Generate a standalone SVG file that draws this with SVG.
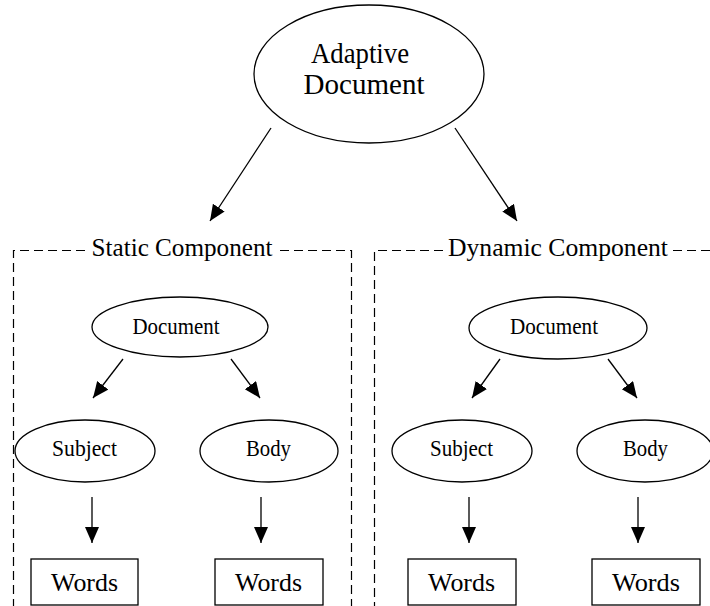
<svg xmlns="http://www.w3.org/2000/svg" width="710" height="606" viewBox="0 0 710 606">
<style>
  .shape { fill: #fff; stroke: #000; stroke-width: 1.3; }
  .t { font-family: "Liberation Serif", "Times New Roman", serif; fill: #000; text-anchor: middle; }
  .dash { fill: none; stroke: #000; stroke-width: 1.2; stroke-dasharray: 9 5; }
  .edge { stroke: #000; stroke-width: 1.3; fill: none; marker-end: url(#ah); }
</style>
<defs>
  <marker id="ah" markerUnits="userSpaceOnUse" markerWidth="18" markerHeight="16" refX="16" refY="7" orient="auto">
    <path d="M0,0 L16,7 L0,14 z" fill="#000"/>
  </marker>
</defs>
<rect width="710" height="606" fill="#fff"/>

<g id="clusters">
  <g id="static">
    <path class="dash" d="M85,250.5 H13.5 V606"/>
    <path class="dash" d="M280,250.5 H351.5 V606"/>
    <text class="t" x="182" y="256" font-size="26" textLength="181" lengthAdjust="spacingAndGlyphs">Static Component</text>
  </g>
  <g id="dynamic">
    <path class="dash" d="M443,250.5 H374.5 V606"/>
    <path class="dash" d="M673,250.5 H712"/>
    <text class="t" x="558" y="256" font-size="26" textLength="220" lengthAdjust="spacingAndGlyphs">Dynamic Component</text>
  </g>
</g>

<g id="connectors">
  <line class="edge" x1="271" y1="128" x2="210" y2="221"/>
  <line class="edge" x1="455" y1="128" x2="517" y2="221"/>
  <line class="edge" x1="123" y1="359" x2="93" y2="398"/>
  <line class="edge" x1="231" y1="359" x2="260" y2="398"/>
  <line class="edge" x1="500" y1="359" x2="472" y2="398"/>
  <line class="edge" x1="608" y1="359" x2="637" y2="398"/>
  <line class="edge" x1="92" y1="497" x2="92" y2="543"/>
  <line class="edge" x1="261" y1="497" x2="261" y2="543"/>
  <line class="edge" x1="469" y1="497" x2="469" y2="543"/>
  <line class="edge" x1="638" y1="497" x2="638" y2="543"/>
</g>

<g id="adaptive">
  <ellipse class="shape" cx="369" cy="74" rx="115" ry="69"/>
  <text class="t" x="360" y="63" font-size="30" textLength="98" lengthAdjust="spacingAndGlyphs">Adaptive</text>
  <text class="t" x="364" y="94" font-size="30" textLength="121" lengthAdjust="spacingAndGlyphs">Document</text>
</g>

<g id="s-document">
  <ellipse class="shape" cx="180" cy="327" rx="88" ry="30"/>
  <text class="t" x="176" y="334" font-size="23" textLength="87" lengthAdjust="spacingAndGlyphs">Document</text>
</g>
<g id="s-subject">
  <ellipse class="shape" cx="85" cy="451" rx="70" ry="31"/>
  <text class="t" x="84.5" y="456" font-size="23" textLength="65" lengthAdjust="spacingAndGlyphs">Subject</text>
</g>
<g id="s-body">
  <ellipse class="shape" cx="269" cy="451" rx="69" ry="31"/>
  <text class="t" x="268.5" y="456" font-size="23" textLength="45" lengthAdjust="spacingAndGlyphs">Body</text>
</g>
<g id="s-words1">
  <rect class="shape" x="31" y="559" width="107" height="46"/>
  <text class="t" x="84.5" y="591" font-size="26" textLength="67" lengthAdjust="spacingAndGlyphs">Words</text>
</g>
<g id="s-words2">
  <rect class="shape" x="215" y="559" width="108" height="46"/>
  <text class="t" x="268.5" y="591" font-size="26" textLength="67" lengthAdjust="spacingAndGlyphs">Words</text>
</g>

<g id="d-document">
  <ellipse class="shape" cx="558" cy="328" rx="89" ry="31"/>
  <text class="t" x="554" y="334" font-size="23" textLength="88" lengthAdjust="spacingAndGlyphs">Document</text>
</g>
<g id="d-subject">
  <ellipse class="shape" cx="462" cy="451" rx="70" ry="31"/>
  <text class="t" x="461.5" y="456" font-size="23" textLength="63" lengthAdjust="spacingAndGlyphs">Subject</text>
</g>
<g id="d-body">
  <ellipse class="shape" cx="645" cy="451" rx="68" ry="31"/>
  <text class="t" x="645.5" y="456" font-size="23" textLength="45" lengthAdjust="spacingAndGlyphs">Body</text>
</g>
<g id="d-words1">
  <rect class="shape" x="408" y="559" width="108" height="46"/>
  <text class="t" x="461.5" y="591" font-size="26" textLength="67" lengthAdjust="spacingAndGlyphs">Words</text>
</g>
<g id="d-words2">
  <rect class="shape" x="592" y="559" width="108" height="46"/>
  <text class="t" x="646" y="591" font-size="26" textLength="68" lengthAdjust="spacingAndGlyphs">Words</text>
</g>
</svg>
